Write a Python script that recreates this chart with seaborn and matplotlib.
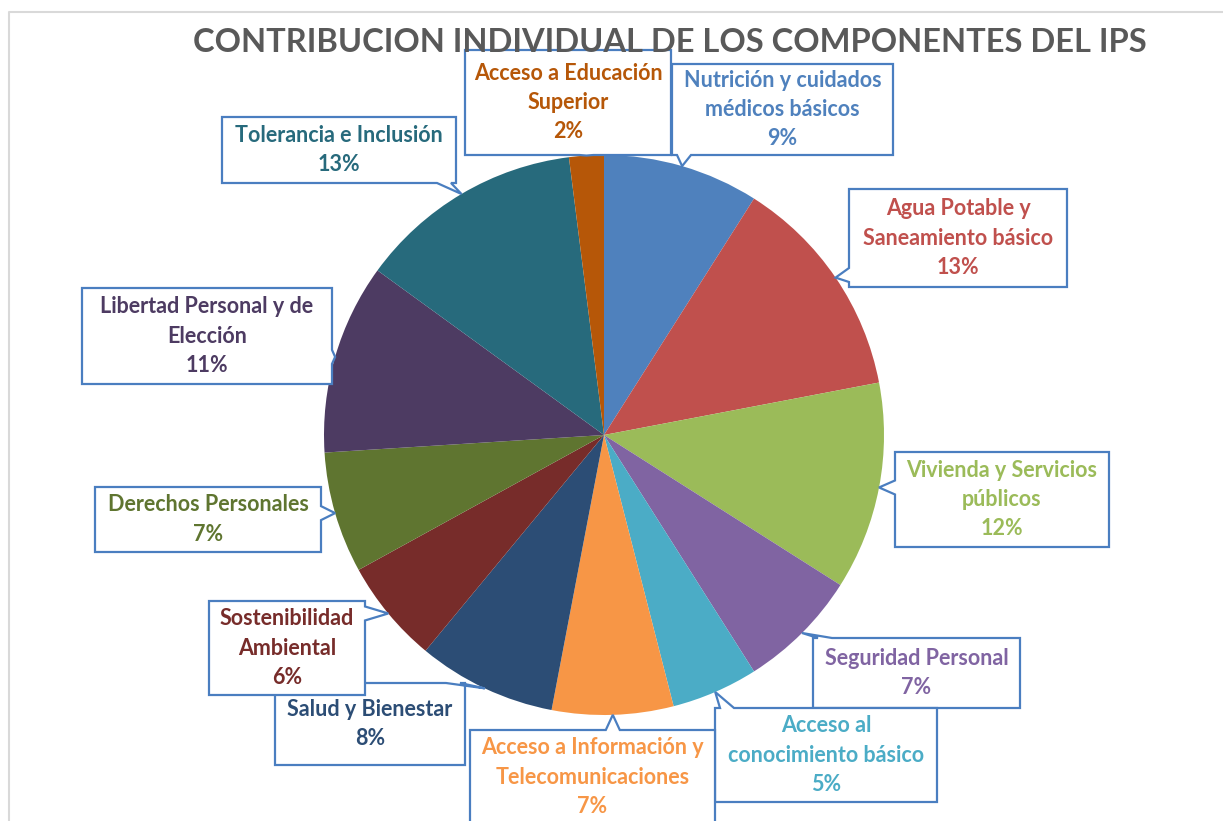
import numpy as np
import matplotlib
matplotlib.use("Agg")
import matplotlib.pyplot as plt
from matplotlib.patches import Polygon
import seaborn as sns

# ─── Data ─────────────────────────────────────────────
componentes = [
    "Nutrición y cuidados\nmédicos básicos",
    "Agua Potable y\nSaneamiento básico",
    "Vivienda y Servicios\npúblicos",
    "Seguridad Personal",
    "Acceso al\nconocimiento básico",
    "Acceso a Información y\nTelecomunicaciones",
    "Salud y Bienestar",
    "Sostenibilidad\nAmbiental",
    "Derechos Personales",
    "Libertad Personal y de\nElección",
    "Tolerancia e Inclusión",
    "Acceso a Educación\nSuperior",
]
porcentajes = [9, 13, 12, 7, 5, 7, 8, 6, 7, 11, 13, 2]

colores = [
    "#4F81BD", "#C0504D", "#9BBB59", "#8064A2", "#4BACC6", "#F79646",
    "#2C4D75", "#772C2A", "#5F7530", "#4D3B62", "#276A7C", "#B65708",
]

TITULO = "CONTRIBUCION INDIVIDUAL DE LOS COMPONENTES DEL IPS"

# ─── Layout (pixels, top-down) ─────────────────────────
W, H = 1223, 821
CENTER = (604, 435)
RADIUS = 280
BOX_EDGE = "#4A7EC0"

# box: (x0, y_top, x1, y_bottom), side where the pointer leaves
cajas = [
    ((672, 64, 893, 155), "bottom"),
    ((849, 189, 1067, 287), "left"),
    ((895, 452, 1109, 547), "left"),
    ((813, 638, 1020, 708), "top"),
    ((715, 708, 937, 802), "top"),
    ((470, 730, 715, 824), "top"),
    ((275, 683, 465, 765), "top"),
    ((209, 601, 365, 695), "right"),
    ((95, 487, 321, 552), "right"),
    ((82, 288, 332, 384), "right"),
    ((222, 117, 456, 183), "bottom"),
    ((465, 50, 671, 155), "bottom"),
]


def callout(box, side, tip, margin=12, hw=7):
    x0, yt, x1, yb = box
    y0, y1 = H - yb, H - yt  # y-up
    tx, ty = tip
    bl, br, tr, tl = (x0, y0), (x1, y0), (x1, y1), (x0, y1)
    if side == "bottom":
        b = np.clip(tx, x0 + margin, x1 - margin)
        pts = [bl, (b - hw, y0), tip, (b + hw, y0), br, tr, tl]
    elif side == "right":
        b = np.clip(ty, y0 + margin, y1 - margin)
        pts = [bl, br, (x1, b - hw), tip, (x1, b + hw), tr, tl]
    elif side == "top":
        b = np.clip(tx, x0 + margin, x1 - margin)
        pts = [bl, br, tr, (b + hw, y1), tip, (b - hw, y1), tl]
    else:
        b = np.clip(ty, y0 + margin, y1 - margin)
        pts = [bl, br, tr, tl, (x0, b + hw), tip, (x0, b - hw)]
    return pts


sns.set_theme(style="white")
plt.rcParams["font.family"] = ["Lato", "DejaVu Sans"]

fig = plt.figure(figsize=(W / 100, H / 100), dpi=100)
ax = fig.add_axes([0, 0, 1, 1])

paleta = sns.color_palette(colores)
wedges, _ = ax.pie(
    porcentajes,
    colors=paleta,
    startangle=90,
    counterclock=False,
    center=(CENTER[0], H - CENTER[1]),
    radius=RADIUS,
    wedgeprops={"linewidth": 0},
)

ax.set_xlim(0, W)
ax.set_ylim(0, H)
ax.set_aspect("equal")
ax.axis("off")

# outer frame (top and left edges visible in the original)
ax.plot([9, 9, W], [0, H - 12, H - 12], color="#d9d9d9", lw=1.5, zorder=1)

for w, nombre, pct, col, (box, side) in zip(wedges, componentes, porcentajes, colores, cajas):
    ang = np.deg2rad((w.theta1 + w.theta2) / 2)
    tip = (w.center[0] + w.r * np.cos(ang), w.center[1] + w.r * np.sin(ang))
    poly = Polygon(callout(box, side, tip), closed=True, facecolor="white",
                   edgecolor=BOX_EDGE, lw=1.6, zorder=3)
    ax.add_patch(poly)
    x0, yt, x1, yb = box
    ax.text((x0 + x1) / 2, H - (yt + yb) / 2, f"{nombre}\n{pct}%",
            ha="center", va="center", ma="center", color=col,
            fontsize=15.5, fontweight="bold", linespacing=1.48, zorder=4)

fig.text(670 / W, 1 - 42 / H, TITULO, ha="center", va="center",
         fontsize=23.5, fontweight="bold", color="#595959")

fig.savefig("out.png", dpi=100)
